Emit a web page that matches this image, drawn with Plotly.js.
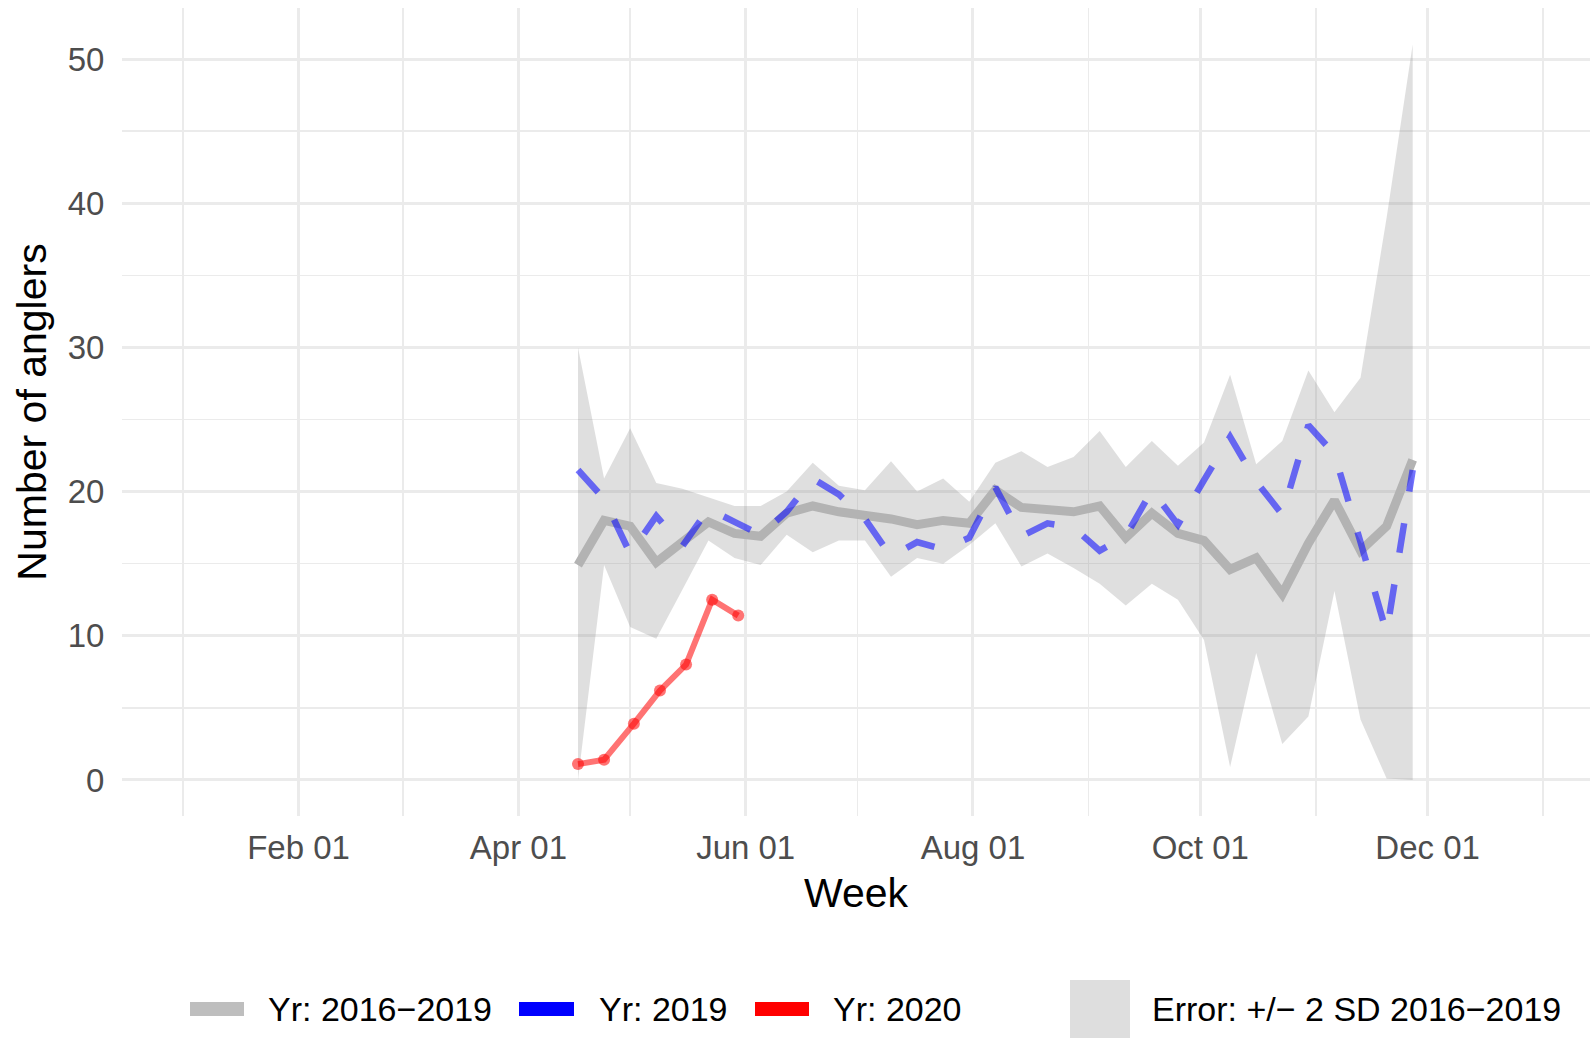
<!DOCTYPE html>
<html>
<head>
<meta charset="utf-8">
<script src="https://cdn.plot.ly/plotly-3.0.1.min.js"></script>
<style>html,body{margin:0;padding:0;background:#fff;}#chart{width:1590px;height:1038px;}</style>
</head>
<body>
<div id="chart"></div>
<script>
// ---- data ----
const weeks = ['2019-04-17','2019-04-24','2019-05-01','2019-05-08','2019-05-15','2019-05-22','2019-05-29',
  '2019-06-05','2019-06-12','2019-06-19','2019-06-26','2019-07-03','2019-07-10','2019-07-17','2019-07-24',
  '2019-07-31','2019-08-07','2019-08-14','2019-08-21','2019-08-28','2019-09-04','2019-09-11','2019-09-18',
  '2019-09-25','2019-10-02','2019-10-09','2019-10-16','2019-10-23','2019-10-30','2019-11-06','2019-11-13',
  '2019-11-20','2019-11-27'];
const mean2016_2019 = [14.9,18.0,17.6,15.1,16.5,17.9,17.1,16.9,18.5,19.0,18.6,18.4,18.1,17.7,18.0,17.8,
  20.1,18.9,18.7,18.6,19.0,16.8,18.5,17.1,16.6,14.6,15.4,12.9,16.4,19.4,15.9,17.6,22.2];
const upper2SD = [30.0,20.9,24.4,20.6,20.2,19.6,19.0,19.0,20.0,22.0,20.4,20.1,22.1,20.0,20.9,19.3,
  22.0,22.8,21.7,22.4,24.2,21.7,23.5,21.8,23.4,28.1,21.9,23.5,28.4,25.5,27.9,39.0,51.0];
const lower2SD = [0.0,14.9,10.6,9.8,13.2,16.6,15.4,14.9,17.0,15.8,16.6,16.6,14.1,15.4,15.0,16.3,
  17.8,14.8,15.7,14.7,13.6,12.1,13.6,12.5,9.7,0.9,8.8,2.5,4.4,13.1,4.2,0.1,0.0];
const yr2019 = [21.5,19.5,15.7,18.3,16.2,18.8,17.9,17.0,18.6,20.9,19.8,18.1,15.5,16.5,16.0,16.8,
  20.3,16.9,17.8,17.5,15.9,16.9,20.1,17.7,20.8,23.8,20.7,18.4,24.6,22.6,16.5,10.2,21.5];
const weeks2020 = ['2019-04-17','2019-04-24','2019-05-02','2019-05-09','2019-05-16','2019-05-23','2019-05-30'];
const yr2020 = [1.1,1.4,3.9,6.2,8.0,12.5,11.4];

const xMajorVals = ['2019-02-01','2019-04-01','2019-06-01','2019-08-01','2019-10-01','2019-12-01'];
const xMajorText = ['Feb 01','Apr 01','Jun 01','Aug 01','Oct 01','Dec 01'];
const xMinorVals = ['2019-01-01','2019-03-01','2019-05-01','2019-07-01','2019-09-01','2019-11-01','2020-01-01'];
const yMajorVals = [0,10,20,30,40,50];
const yMinorVals = [5,15,25,35,45];
const legendLabels = ['Yr: 2016\u22122019','Yr: 2019','Yr: 2020','Error: +/\u2212 2 SD 2016\u22122019'];

// ---- layout helpers ----
const FONT = 'Liberation Sans, Arial, Helvetica, sans-serif';
const L = 122, T = 8, W = 1468, H = 808;
const px = x => (x - L) / W;
const py = y => (T + H - y) / H;

const traces = [
  {x: weeks, y: lower2SD, type: 'scatter', mode: 'lines', line: {width: 0, color: 'rgba(0,0,0,0)'},
   showlegend: false, hoverinfo: 'skip'},
  {x: weeks, y: upper2SD, type: 'scatter', mode: 'lines', line: {width: 0, color: 'rgba(0,0,0,0)'},
   fill: 'tonexty', fillcolor: 'rgba(127,127,127,0.25)', showlegend: false, hoverinfo: 'skip'},
  {x: weeks, y: mean2016_2019, type: 'scatter', mode: 'lines',
   line: {width: 9, color: '#b3b3b3'}, showlegend: false},
  {x: weeks, y: yr2019, type: 'scatter', mode: 'lines',
   line: {width: 6.5, color: 'rgba(0,0,255,0.55)', dash: '30px,32px'}, showlegend: false},
  {x: weeks2020, y: yr2020, type: 'scatter', mode: 'lines+markers',
   line: {width: 6, color: 'rgba(255,0,0,0.55)'},
   marker: {size: 12, color: 'rgba(255,0,0,0.55)'}, showlegend: false}
];

// custom legend (keys + labels) below the plot
const keyColors = ['#bebebe','#0000ff','#ff0000','#dedede'];
const keyBoxes = [[190,244,1002,1016],[519,574,1002,1016],[755,809,1002,1016],[1070,1130,980,1060]];
const labelX = [266,597,831,1150];
const shapes = keyBoxes.map((b, i) => ({
  type: 'rect', xref: 'paper', yref: 'paper', layer: 'above',
  x0: px(b[0]), x1: px(b[1]), y0: py(b[3]), y1: py(b[2]),
  fillcolor: keyColors[i], line: {width: 0}
}));
const annotations = legendLabels.map((t, i) => ({
  text: t, xref: 'paper', yref: 'paper', x: px(labelX[i]), y: py(1009),
  xanchor: 'left', yanchor: 'middle', showarrow: false,
  font: {family: FONT, size: 34, color: '#000000'}
}));

const layout = {
  width: 1590, height: 1038, autosize: false,
  margin: {l: L, r: 0, t: T, b: 1038 - T - H, pad: 0},
  paper_bgcolor: '#ffffff', plot_bgcolor: '#ffffff',
  showlegend: false, hovermode: false,
  font: {family: FONT},
  xaxis: {
    type: 'date', range: ['2018-12-15 15:00', '2020-01-13 14:00'],
    tickmode: 'array', tickvals: xMajorVals, ticktext: xMajorText,
    showgrid: true, gridcolor: '#ebebeb', gridwidth: 3,
    minor: {tickmode: 'array', tickvals: xMinorVals, showgrid: true, gridcolor: '#ebebeb', gridwidth: 1.6, ticks: ''},
    zeroline: false, showline: false,
    ticks: 'outside', ticklen: 2, tickcolor: 'rgba(0,0,0,0)',
    tickfont: {family: FONT, size: 33, color: '#4d4d4d'},
    title: {text: 'Week', font: {family: FONT, size: 41, color: '#000000'}, standoff: 13},
    automargin: false, fixedrange: true
  },
  yaxis: {
    range: [-2.5, 53.54],
    tickmode: 'array', tickvals: yMajorVals, ticktext: yMajorVals.map(String),
    showgrid: true, gridcolor: '#ebebeb', gridwidth: 3,
    minor: {tickmode: 'array', tickvals: yMinorVals, showgrid: true, gridcolor: '#ebebeb', gridwidth: 1.6, ticks: ''},
    zeroline: false, showline: false,
    ticks: 'outside', ticklen: 10, tickcolor: 'rgba(0,0,0,0)',
    tickfont: {family: FONT, size: 33, color: '#4d4d4d'},
    title: {text: 'Number of anglers', font: {family: FONT, size: 41, color: '#000000'}, standoff: 8},
    automargin: false, fixedrange: true
  },
  shapes: shapes,
  annotations: annotations
};

Plotly.newPlot('chart', traces, layout, {staticPlot: true, displayModeBar: false});
</script>
</body>
</html>
